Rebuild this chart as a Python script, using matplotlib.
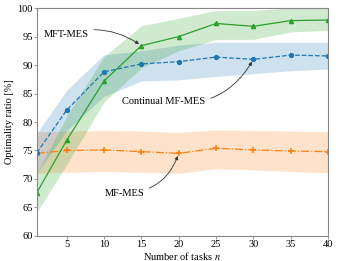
import matplotlib
matplotlib.use("Agg")
import matplotlib.pyplot as plt

# data
n_tasks = [1, 5, 10, 15, 20, 25, 30, 35, 40]

mft_mean = [67.6, 76.8, 87.2, 93.4, 95.0, 97.3, 96.8, 97.8, 97.9]
mft_upper = [71.0, 81.0, 91.5, 96.9, 98.2, 99.6, 99.6, 100.0, 100.0]
mft_lower = [64.2, 72.5, 83.5, 89.5, 92.5, 94.5, 94.5, 95.8, 96.1]

cont_mean = [74.6, 82.1, 88.8, 90.2, 90.6, 91.4, 91.0, 91.75, 91.6]
cont_upper = [78.0, 85.6, 91.8, 92.5, 93.5, 94.0, 94.0, 94.0, 94.0]
cont_lower = [71.0, 78.5, 84.5, 87.2, 87.4, 88.0, 88.5, 89.0, 89.3]

mf_mean = [74.5, 75.0, 75.1, 74.8, 74.5, 75.4, 75.1, 74.9, 74.8]
mf_upper = [78.3, 78.4, 78.5, 78.4, 78.2, 78.6, 78.5, 78.4, 78.3]
mf_lower = [71.0, 71.2, 71.3, 71.2, 71.0, 71.8, 71.6, 71.3, 71.1]

plt.rcParams['font.family'] = ['Liberation Serif', 'DejaVu Serif']
plt.rcParams['font.size'] = 7.5
plt.rcParams['mathtext.fontset'] = 'stix'

fig = plt.figure(figsize=(3.41, 2.61), dpi=100)
ax = fig.add_axes([0.108, 0.096, 0.854, 0.873])

blue, orange, green = '#1f77b4', '#ff7f0e', '#2ca02c'

ax.fill_between(n_tasks, mf_lower, mf_upper, color=orange, alpha=0.22, lw=0)
ax.fill_between(n_tasks, cont_lower, cont_upper, color=blue, alpha=0.22, lw=0)
ax.fill_between(n_tasks, mft_lower, mft_upper, color=green, alpha=0.22, lw=0)

ax.plot(n_tasks, mf_mean, color=orange, ls='-.', lw=0.9, marker='+', ms=4, mew=1.2)
ax.plot(n_tasks, cont_mean, color=blue, ls='--', lw=0.9, marker='o', ms=2.8)
ax.plot(n_tasks, mft_mean, color=green, ls='-', lw=0.9, marker='^', ms=3)

arrow = dict(arrowstyle='-|>', color='#333333', lw=0.6, mutation_scale=5)
ax.annotate('MFT-MES', xy=(15, 93.4), xytext=(4.9, 95.4), ha='center', va='center',
            arrowprops=dict(connectionstyle='arc3,rad=-0.25', **arrow))
ax.annotate('Continual MF-MES', xy=(30, 91.0), xytext=(18.0, 83.6), ha='center', va='center',
            arrowprops=dict(connectionstyle='arc3,rad=0.35', **arrow))
ax.annotate('MF-MES', xy=(20, 74.5), xytext=(12.7, 67.5), ha='center', va='center',
            arrowprops=dict(connectionstyle='arc3,rad=0.35', **arrow))

ax.set_xlim(1, 40)
ax.set_ylim(60, 100)
ax.set_xticks([5, 10, 15, 20, 25, 30, 35, 40])
ax.set_yticks(range(60, 101, 5))
ax.set_xlabel('Number of tasks $n$', va='center')
ax.set_ylabel('Optimality ratio [%]', va='center')
ax.xaxis.set_label_coords(0.5, -0.086)
ax.yaxis.set_label_coords(-0.093, 0.5)
for s in ax.spines.values():
    s.set_color('#888888')
    s.set_linewidth(0.8)
ax.tick_params(length=2, width=0.6, color='#888888', pad=1)

fig.savefig('out.png', dpi=100)
